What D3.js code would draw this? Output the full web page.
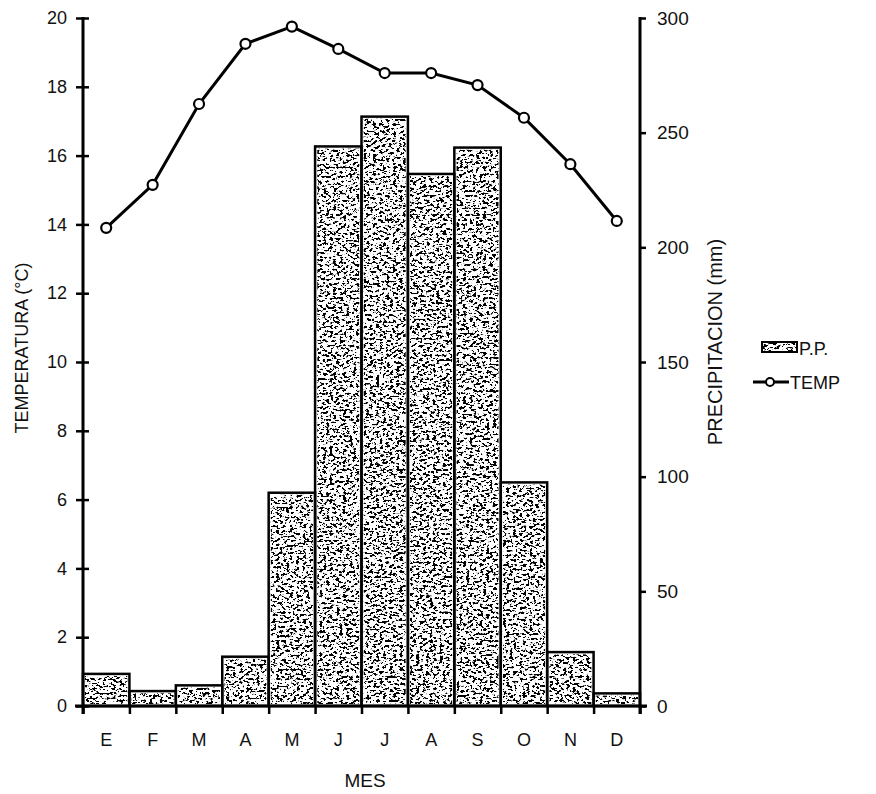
<!DOCTYPE html>
<meta charset="utf-8">
<script src="https://d3js.org/d3.v7.min.js"></script>
<style>
  body { margin: 0; background: #fff; }
  text { font-family: "Liberation Sans", Arial, sans-serif; fill: #111; }
</style>
<svg id="chart" width="876" height="794"></svg>

<script>
  // data
  var meses = ["E", "F", "M", "A", "M ", "J", "J ", "A ", "S", "O", "N", "D"];
  var mesLabels = ["E", "F", "M", "A", "M", "J", "J", "A", "S", "O", "N", "D"];
  var precip = [14, 6.5, 9, 21.5, 93, 244, 257, 232, 243.5, 97.5, 23.5, 5.5];   // mm
  var temp = [13.9, 15.15, 17.5, 19.25, 19.75, 19.1, 18.4, 18.4, 18.05, 17.1, 15.75, 14.1]; // ºC
  var tempTicks = [0, 2, 4, 6, 8, 10, 12, 14, 16, 18, 20];
  var precipTicks = [0, 50, 100, 150, 200, 250, 300];

  var svg = d3.select("#chart");

  var mLeft = 83, mRight = 640, mTop = 18, mBottom = 706;

  var x = d3.scaleBand().domain(meses).range([mLeft, mRight]).padding(0);
  var yT = d3.scaleLinear().domain([0, 20]).range([mBottom, mTop]);
  var yP = d3.scaleLinear().domain([0, 300]).range([mBottom, mTop]);

  // stipple texture for the bars (coarse speckles like the scanned print)
  var defs = svg.append("defs");
  var f = defs.append("filter").attr("id", "stipple")
    .attr("x", 0).attr("y", 0).attr("width", 1).attr("height", 1);
  f.append("feTurbulence")
    .attr("type", "fractalNoise")
    .attr("baseFrequency", "0.3 0.42")
    .attr("numOctaves", 3)
    .attr("seed", 11)
    .attr("result", "n");
  f.append("feColorMatrix")
    .attr("in", "n").attr("type", "matrix")
    .attr("values", "0 0 0 0 0  0 0 0 0 0  0 0 0 0 0  -22 0 0 0 10.2")
    .attr("result", "dots");
  f.append("feComposite").attr("in", "dots").attr("in2", "SourceAlpha")
    .attr("operator", "in").attr("result", "d2");
  var m = f.append("feMerge");
  m.append("feMergeNode").attr("in", "SourceGraphic");
  m.append("feMergeNode").attr("in", "d2");

  // bars
  var bars = svg.append("g");
  bars.selectAll("rect.fill")
    .data(precip)
    .enter()
    .append("rect")
    .attr("class", "fill")
    .attr("x", function (d, i) { return x(meses[i]) + 2; })
    .attr("y", function (d) { return yP(d) + 2; })
    .attr("width", x.bandwidth() - 4)
    .attr("height", function (d) { return mBottom - yP(d) - 4; })
    .attr("fill", "#fff")
    .attr("filter", "url(#stipple)");
  bars.selectAll("rect.out")
    .data(precip)
    .enter()
    .append("rect")
    .attr("class", "out")
    .attr("x", function (d, i) { return x(meses[i]); })
    .attr("y", function (d) { return yP(d); })
    .attr("width", x.bandwidth())
    .attr("height", function (d) { return mBottom - yP(d); })
    .attr("fill", "none")
    .attr("stroke", "#000")
    .attr("stroke-width", 2.5);

  // left axis
  var gl = svg.append("g").attr("transform", "translate(" + mLeft + ",0)")
    .call(d3.axisLeft(yT).tickValues(tempTicks).tickSize(7).tickPadding(9));
  gl.select(".domain").remove();
  gl.selectAll(".tick line").attr("x1", 6).attr("stroke-width", 2.5);
  gl.selectAll("text").style("font-size", "18px").attr("fill", "#111");
  svg.append("line").attr("x1", mLeft).attr("x2", mLeft).attr("y1", mTop - 1).attr("y2", mBottom + 8)
    .attr("stroke", "#000").attr("stroke-width", 3);

  // right axis
  var gr = svg.append("g").attr("transform", "translate(" + mRight + ",0)")
    .call(d3.axisRight(yP).tickValues(precipTicks).tickSize(6).tickPadding(11));
  gr.select(".domain").remove();
  gr.selectAll(".tick line").attr("stroke-width", 2.5);
  gr.selectAll("text").style("font-size", "19px").attr("fill", "#111");
  svg.append("line").attr("x1", mRight).attr("x2", mRight).attr("y1", mTop - 1).attr("y2", mBottom + 8)
    .attr("stroke", "#000").attr("stroke-width", 3);

  // bottom axis
  var edges = d3.scaleLinear().domain([0, 12]).range([mLeft, mRight]);
  var gb = svg.append("g").attr("transform", "translate(0," + mBottom + ")")
    .call(d3.axisBottom(edges).tickValues(d3.range(0, 13)).tickFormat("").tickSize(8));
  gb.select(".domain").remove();
  gb.selectAll(".tick line").attr("stroke-width", 2.5);
  svg.append("line").attr("x1", mLeft - 8).attr("x2", mRight + 7).attr("y1", mBottom).attr("y2", mBottom)
    .attr("stroke", "#000").attr("stroke-width", 3);

  var gm = svg.append("g").attr("transform", "translate(0," + mBottom + ")")
    .call(d3.axisBottom(x).tickSize(0).tickPadding(27).tickFormat(function (d, i) { return mesLabels[i]; }));
  gm.select(".domain").remove();
  gm.selectAll("text").style("font-size", "18px").attr("fill", "#111");

  // temperature line
  var line = d3.line()
    .x(function (d, i) { return x(meses[i]) + x.bandwidth() / 2; })
    .y(function (d) { return yT(d); });
  svg.append("path")
    .datum(temp)
    .attr("d", line)
    .attr("fill", "none")
    .attr("stroke", "#000")
    .attr("stroke-width", 3);
  svg.append("g").selectAll("circle")
    .data(temp)
    .enter()
    .append("circle")
    .attr("cx", function (d, i) { return x(meses[i]) + x.bandwidth() / 2; })
    .attr("cy", function (d) { return yT(d); })
    .attr("r", 5)
    .attr("fill", "#fff")
    .attr("stroke", "#000")
    .attr("stroke-width", 2.2);

  // axis titles
  svg.append("text")
    .attr("transform", "translate(28,348) rotate(-90)")
    .attr("text-anchor", "middle")
    .style("font-size", "18px")
    .text("TEMPERATURA (°C)");
  svg.append("text")
    .attr("transform", "translate(722,342) rotate(-90)")
    .attr("text-anchor", "middle")
    .style("font-size", "20px")
    .text("PRECIPITACION (mm)");
  svg.append("text")
    .attr("x", 365)
    .attr("y", 787)
    .attr("text-anchor", "middle")
    .style("font-size", "19px")
    .text("MES");

  // legend
  var lg = svg.append("g");
  lg.append("rect").attr("x", 762).attr("y", 342).attr("width", 35).attr("height", 10)
    .attr("fill", "#fff").attr("filter", "url(#stipple)");
  lg.append("rect").attr("x", 762).attr("y", 342).attr("width", 35).attr("height", 10)
    .attr("fill", "none").attr("stroke", "#000").attr("stroke-width", 2);
  lg.append("text").attr("x", 799).attr("y", 355).style("font-size", "18px").text("P.P.");
  lg.append("line").attr("x1", 753).attr("x2", 789).attr("y1", 382).attr("y2", 382)
    .attr("stroke", "#000").attr("stroke-width", 3);
  lg.append("circle").attr("cx", 770).attr("cy", 382).attr("r", 4)
    .attr("fill", "#fff").attr("stroke", "#000").attr("stroke-width", 2);
  lg.append("text").attr("x", 790).attr("y", 389).style("font-size", "18px").text("TEMP");
</script>
